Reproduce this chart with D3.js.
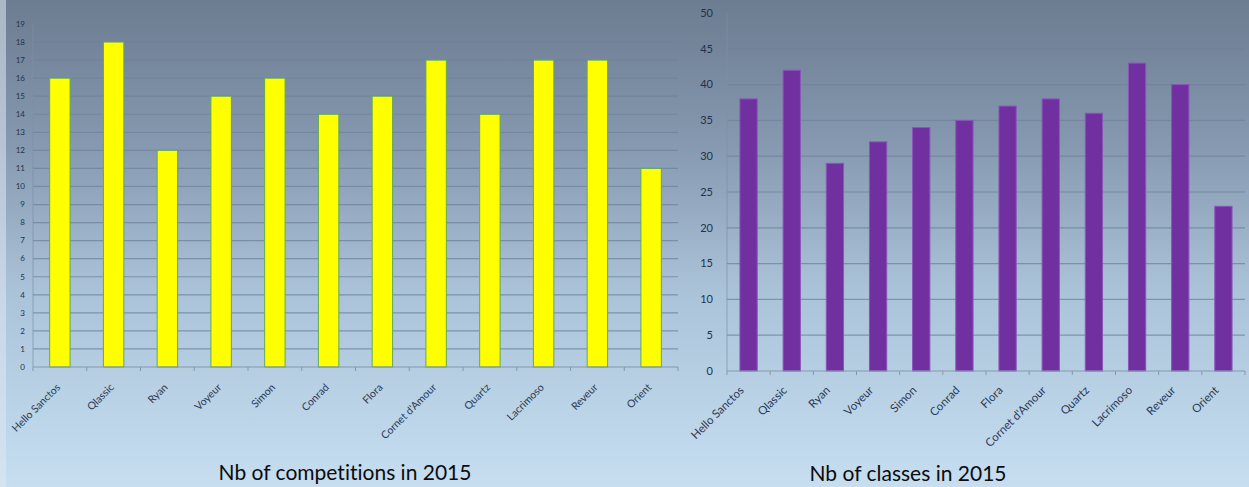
<!DOCTYPE html>
<html>
<head>
<meta charset="utf-8">
<script src="https://cdn.jsdelivr.net/npm/d3@7"></script>
<style>
  html, body { margin: 0; padding: 0; background: #c4dcee; }
  svg { display: block; }
  text { font-family: Lato, "Open Sans", sans-serif; font-variant-ligatures: none; }
</style>
</head>
<body>
<svg id="chart" width="1249" height="487"></svg>
<script>
// Horses and their 2015 season
const horses = ["Hello Sanctos", "Qlassic", "Ryan", "Voyeur", "Simon", "Conrad",
                "Flora", "Cornet d'Amour", "Quartz", "Lacrimoso", "Reveur", "Orient"];
const competitions2015 = [16, 18, 12, 15, 16, 14, 15, 17, 14, 17, 17, 11];
const classes2015 = [38, 42, 29, 32, 34, 35, 37, 38, 36, 43, 40, 23];
const competitionTicks = d3.range(0, 20);          // 0 … 19
const classTicks = [0, 5, 10, 15, 20, 25, 30, 35, 40, 45, 50];
const titles = ["Nb of competitions in 2015", "Nb of classes in 2015"];

const svg = d3.select("#chart");
const W = 1249, H = 487;

// slide background: slate at the top fading to pale blue
const defs = svg.append("defs");
const bg = defs.append("linearGradient").attr("id", "bg")
  .attr("x1", 0).attr("y1", 0).attr("x2", 0).attr("y2", 1);
[[0, "#6c7c91"], [0.3, "#8699b0"], [0.6, "#abc3d9"], [1, "#c6def0"]]
  .forEach(([o, c]) => bg.append("stop").attr("offset", o).attr("stop-color", c));
svg.append("rect").attr("width", W).attr("height", H).attr("fill", "url(#bg)");
svg.append("rect").attr("width", 6).attr("height", H).attr("fill", "#dfe8f0").attr("opacity", 0.55);

function barChart(cfg) {
  const g = svg.append("g");
  const x = d3.scaleBand().domain(horses).range([cfg.x0, cfg.x1])
    .paddingInner(cfg.pad).paddingOuter(cfg.pad / 2);
  const y = d3.scaleLinear().domain([0, cfg.max]).range([cfg.y0, cfg.y1]);

  // horizontal gridlines
  g.append("g").selectAll("line").data(cfg.ticks.filter(t => t > 0)).join("line")
    .attr("x1", cfg.x0).attr("x2", cfg.x1)
    .attr("y1", d => y(d)).attr("y2", d => y(d))
    .attr("stroke", "#6f8299").attr("stroke-width", 1.2).attr("opacity", 0.75);

  // value axis line
  g.append("line").attr("x1", cfg.x0).attr("x2", cfg.x0)
    .attr("y1", y(0)).attr("y2", y(cfg.max))
    .attr("stroke", "#7f90a5").attr("stroke-width", 1).attr("opacity", 0.7);

  // value labels
  g.append("g").selectAll("text").data(cfg.ticks).join("text")
    .attr("x", cfg.labelX).attr("y", d => y(d))
    .attr("dy", "0.35em").attr("text-anchor", "end")
    .attr("font-size", cfg.yFont).attr("fill", "#22324c")
    .text(d => d);

  // bars
  g.append("g").selectAll("rect").data(cfg.values).join("rect")
    .attr("x", (d, i) => x(horses[i]))
    .attr("width", x.bandwidth())
    .attr("y", d => y(d))
    .attr("height", d => y(0) - y(d))
    .attr("fill", cfg.fill)
    .attr("stroke", cfg.stroke).attr("stroke-width", 1);

  // category axis with boundary ticks
  g.append("line").attr("x1", cfg.x0).attr("x2", cfg.x1)
    .attr("y1", y(0)).attr("y2", y(0))
    .attr("stroke", "#8797ab").attr("stroke-width", 1.2);
  const step = x.step();
  const bounds = horses.map(h => x(h) - step * cfg.pad / 2).concat([cfg.x1]);
  g.append("g").selectAll("line").data(bounds).join("line")
    .attr("x1", d => d).attr("x2", d => d)
    .attr("y1", y(0)).attr("y2", y(0) + 4)
    .attr("stroke", "#8797ab").attr("stroke-width", 1);

  // rotated category labels
  g.append("g").selectAll("text").data(horses).join("text")
    .attr("transform", d => `translate(${x(d) + x.bandwidth() / 2 + cfg.labelDx},${y(0) + cfg.labelDy}) rotate(-45)`)
    .attr("text-anchor", "end")
    .attr("font-size", cfg.xFont).attr("fill", "#2a3956")
    .text(d => d);

  // caption
  g.append("text").attr("x", cfg.titleX).attr("y", cfg.titleY)
    .attr("text-anchor", "middle").attr("font-size", 21).attr("fill", "#0c0c0c")
    .text(cfg.title);
}

barChart({
  values: competitions2015, ticks: competitionTicks, max: 19,
  x0: 33, x1: 678, y0: 367, y1: 24, pad: 0.62,
  labelX: 25, yFont: 8, xFont: 10.5, labelDx: 1, labelDy: 21,
  fill: "#ffff00", stroke: "#63a95a",
  title: titles[0], titleX: 345, titleY: 480
});

barChart({
  values: classes2015, ticks: classTicks, max: 50,
  x0: 727, x1: 1245, y0: 371, y1: 13, pad: 0.6,
  labelX: 713, yFont: 11, xFont: 11.5, labelDx: -4, labelDy: 20,
  fill: "#7030a0", stroke: "#8a55bb",
  title: titles[1], titleX: 908, titleY: 481
});
</script>
</body>
</html>
